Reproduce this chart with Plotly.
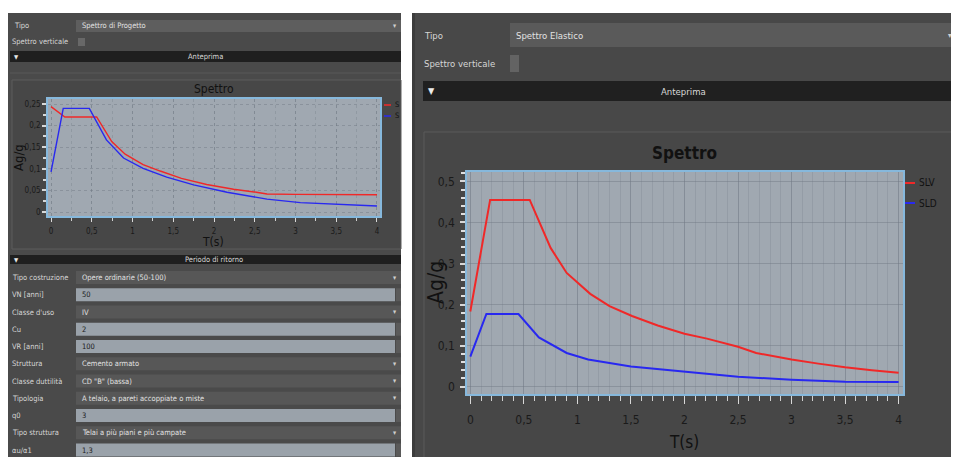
import plotly.graph_objects as go

# screen is 959x457; the page body has an 8px margin, so the figure is 951x449
W, H = 951, 449
OX, OY = 8, 8

# ---------------- data ----------------
# left chart (Spettro di Progetto)
T_sx_slv = [0, 0.17, 0.56, 0.745, 0.91, 1.13, 1.34, 1.60, 1.91, 2.24, 2.52, 2.65, 3.0, 3.5, 4.0]
A_sx_slv = [0.244, 0.220, 0.220, 0.163, 0.134, 0.110, 0.095, 0.078, 0.064, 0.053, 0.046, 0.042, 0.041, 0.040, 0.040]
T_sx_sld = [0, 0.15, 0.47, 0.68, 0.89, 1.13, 1.42, 1.75, 2.16, 2.65, 3.06, 3.46, 4.0]
A_sx_sld = [0.093, 0.240, 0.240, 0.167, 0.125, 0.101, 0.081, 0.063, 0.046, 0.030, 0.022, 0.018, 0.014]

# right chart (Spettro Elastico)
T_dx_slv = [0, 0.185, 0.555, 0.75, 0.9, 1.12, 1.3, 1.51, 1.75, 2.0, 2.21, 2.5, 2.67, 3.0, 3.25, 3.5, 3.75, 4.0]
A_dx_slv = [0.183, 0.455, 0.455, 0.338, 0.277, 0.226, 0.196, 0.172, 0.149, 0.129, 0.117, 0.097, 0.082, 0.066, 0.056, 0.047, 0.040, 0.034]
T_dx_sld = [0, 0.15, 0.45, 0.64, 0.9, 1.1, 1.5, 2.0, 2.5, 3.0, 3.5, 4.0]
A_dx_sld = [0.073, 0.177, 0.177, 0.120, 0.082, 0.066, 0.049, 0.037, 0.024, 0.017, 0.012, 0.011]

series_names = ["SLV", "SLD"]
x_tick_vals = [0, 0.5, 1, 1.5, 2, 2.5, 3, 3.5, 4]
chart_title = "Spettro"
x_title = "T(s)"
y_title = "Ag/g"

# UI texts
left_tipo = "Spettro di Progetto"
right_tipo = "Spettro Elastico"
header_preview = "Anteprima"
header_params = "Periodo di ritorno"
row_labels = ["Tipo costruzione", "VN [anni]", "Classe d'uso", "Cu", "VR [anni]", "Struttura",
              "Classe duttilità", "Tipologia", "q0", "Tipo struttura", "αu/α1"]
row_values = ["Opere ordinarie (50-100)", "50", "IV", "2", "100", "Cemento armato",
              "CD \"B\" (bassa)", "A telaio, a pareti accoppiate o miste", "3",
              "Telai a più piani e più campate", "1,3"]
row_kinds = ["combo", "spin", "combo", "spin", "spin", "combo", "combo", "combo", "spin", "combo", "spin"]

# ---------------- helpers (screen pixels -> paper) ----------------
def px(x):
    return (x - OX) / W

def py(y):
    return 1 - (y - OY) / H

FONT = "DejaVu Sans Condensed, Liberation Sans Narrow, Liberation Sans, sans-serif"
RED = "#f02828"
BLUE = "#2828f0"
PLOTBG = "#a0a8b1"
shapes = []
annots = []

def rect(x0, y0, x1, y1, fill, line=None, lw=1):
    shapes.append(dict(type="rect", xref="paper", yref="paper",
                       x0=px(x0), x1=px(x1), y0=py(y1), y1=py(y0),
                       fillcolor=fill, line=dict(color=line or fill, width=lw if line else 0),
                       layer="below"))

def hline(x0, x1, y, color, w=1, layer="below"):
    shapes.append(dict(type="line", xref="paper", yref="paper", x0=px(x0), x1=px(x1),
                       y0=py(y), y1=py(y), line=dict(color=color, width=w), layer=layer))

def text(x, y, s, size, color="#d6d6d6", anchor="left", bold=False, angle=0):
    if bold:
        s = "<b>" + s + "</b>"
    annots.append(dict(x=px(x), y=py(y), xref="paper", yref="paper", text=s, showarrow=False,
                       xanchor=anchor, yanchor="middle", textangle=angle,
                       font=dict(family=FONT, size=size, color=color)))

# ---------------- panels ----------------
rect(8, 13, 401, 470, "#4a4a4a")
rect(412, 13, 970, 470, "#484848")
rect(412, 13, 415, 470, "#3c3c3c")

# left top controls
UIL = 7.5
text(12, 26, "Tipo", UIL)
rect(76, 20, 401, 32, "#5e5e5e")
text(80, 26, left_tipo, UIL, "#e2e2e2")
text(399, 26, "▾", 7, "#cfcfcf", anchor="right")
text(10, 42, "Spettro verticale", UIL)
rect(78, 38, 85, 46, "#686868")
rect(10, 51, 401, 62, "#1f1f1f")
text(12, 56.5, "▼", 6, "#e8e8e8")
text(205, 56.5, header_preview, UIL, "#d8d8d8", anchor="center")
hline(10, 401, 73, "#585858")
rect(12, 80, 401, 249, "#474747", line="#5c5c5c")
rect(48, 99, 380, 216, PLOTBG)

# left lower parameters
rect(10, 255, 401, 264, "#1f1f1f")
text(12, 259.5, "▼", 6, "#e8e8e8")
text(214, 259.5, header_params, UIL, "#d8d8d8", anchor="center")
for i, (lab, val, kind) in enumerate(zip(row_labels, row_values, row_kinds)):
    yc = 277.5 + i * 17.25
    text(10, yc, lab, UIL)
    if kind == "combo":
        rect(76, yc - 6.5, 401, yc + 6.5, "#575757")
        text(80, yc, val, UIL, "#e2e2e2")
        text(399, yc, "▾", 7, "#cfcfcf", anchor="right")
    else:
        rect(76, yc - 6.5, 395, yc + 6.5, "#9aa2aa")
        rect(396, yc - 6.5, 401, yc + 6.5, "#5a5a5a")
        text(80, yc, val, UIL, "#202020")

# right top controls
UIR = 9.5
text(422, 35, "Tipo", UIR)
rect(510, 23, 970, 47, "#5a5a5a")
text(514, 35, right_tipo, UIR, "#e2e2e2")
text(954, 35, "▾", 8, "#cfcfcf", anchor="right")
text(422, 63, "Spettro verticale", UIR)
rect(510, 55, 519, 72, "#636363")
rect(423, 81, 970, 101, "#202020")
text(426, 91, "▼", 9, "#ececec")
text(683, 91, header_preview, UIR, "#d8d8d8", anchor="center")
rect(424, 132, 975, 475, "#474747", line="#5a5a5a")
rect(467, 172, 903, 394, PLOTBG)

# chart texts
text(214, 89, chart_title, 12, "#111111", anchor="center")
text(18, 158, y_title, 13, "#111111", anchor="center", angle=-90)
text(213, 242, x_title, 12, "#111111", anchor="center")
text(684, 153, chart_title, 17, "#111111", anchor="center", bold=True)
text(436, 283, y_title, 21, "#111111", anchor="center", angle=-90)
text(684, 442, x_title, 17, "#111111", anchor="center")

# legends
for (yy, col, name) in [(105, RED, series_names[0]), (116, BLUE, series_names[1])]:
    hline(384, 391, yy, col, 1.5, layer="above")
    text(392.5, yy, name[0], 7.5, "#111111")
for (yy, col, name) in [(183, RED, series_names[0]), (203, BLUE, series_names[1])]:
    hline(905, 915, yy, col, 2, layer="above")
    text(917, yy, name, 10, "#111111")

# ---------------- traces ----------------
fig = go.Figure()
fig.add_trace(go.Scatter(x=T_sx_slv, y=A_sx_slv, mode="lines", name=series_names[0],
                         line=dict(color=RED, width=1.4), xaxis="x", yaxis="y"))
fig.add_trace(go.Scatter(x=T_sx_sld, y=A_sx_sld, mode="lines", name=series_names[1],
                         line=dict(color=BLUE, width=1.4), xaxis="x", yaxis="y"))
fig.add_trace(go.Scatter(x=T_dx_slv, y=A_dx_slv, mode="lines", name=series_names[0],
                         line=dict(color=RED, width=2), xaxis="x2", yaxis="y2"))
fig.add_trace(go.Scatter(x=T_dx_sld, y=A_dx_sld, mode="lines", name=series_names[1],
                         line=dict(color=BLUE, width=2), xaxis="x2", yaxis="y2"))

BORDER = "#86b8dc"
common = dict(showline=True, mirror=True, linecolor=BORDER, linewidth=1.5, zeroline=False,
              ticks="outside", tickcolor="#d8d8d8", fixedrange=True)

fig.update_layout(
    width=W, height=H, margin=dict(l=0, r=0, t=0, b=0),
    paper_bgcolor="white", plot_bgcolor="rgba(0,0,0,0)",
    separators=", ", showlegend=False,
    shapes=shapes, annotations=annots,
    xaxis=dict(domain=[px(48), px(380)], range=[-0.037, 4.037], anchor="y",
               tickvals=x_tick_vals, ticklen=4, tickwidth=1,
               tickfont=dict(family=FONT, size=8, color="#1a1a1a"), ticklabelstandoff=3,
               showgrid=True, gridcolor="rgba(110,120,130,0.45)", griddash="dot", gridwidth=1,
               minor=dict(dtick=0.25, ticks="outside", ticklen=3, tickcolor="#d0d0d0",
                          showgrid=True, gridcolor="rgba(110,120,130,0.3)", griddash="dot"),
               **common),
    yaxis=dict(domain=[py(216), py(99)], range=[-0.009, 0.2616], anchor="x",
               dtick=0.05, tick0=0, ticklen=4, tickwidth=1.5,
               tickfont=dict(family=FONT, size=8, color="#1a1a1a"),
               showgrid=True, gridcolor="rgba(110,120,130,0.45)", griddash="dot",
               minor=dict(dtick=0.025, ticks="outside", ticklen=3, tickcolor="#d8d8d8", showgrid=False),
               **common),
    xaxis2=dict(domain=[px(467), px(903)], range=[-0.031, 4.041], anchor="y2",
                tickvals=x_tick_vals, ticklen=8, tickwidth=1,
                tickfont=dict(family=FONT, size=12, color="#1a1a1a"), ticklabelstandoff=6,
                showgrid=True, gridcolor="rgba(120,130,140,0.55)", gridwidth=1,
                minor=dict(dtick=0.1, ticks="outside", ticklen=5, tickcolor="#d0d0d0",
                           showgrid=True, gridcolor="rgba(125,135,145,0.35)"),
                **common),
    yaxis2=dict(domain=[py(394), py(172)], range=[-0.018, 0.523], anchor="x2",
                dtick=0.1, tick0=0, ticklen=5, tickwidth=2,
                tickfont=dict(family=FONT, size=12, color="#1a1a1a"), ticklabelstandoff=3,
                showgrid=True, gridcolor="rgba(110,120,130,0.45)",
                minor=dict(dtick=0.02, ticks="outside", ticklen=4, tickcolor="#e0e0e0", tickwidth=2,
                           showgrid=False),
                **common),
)

fig.write_html("out.html")
